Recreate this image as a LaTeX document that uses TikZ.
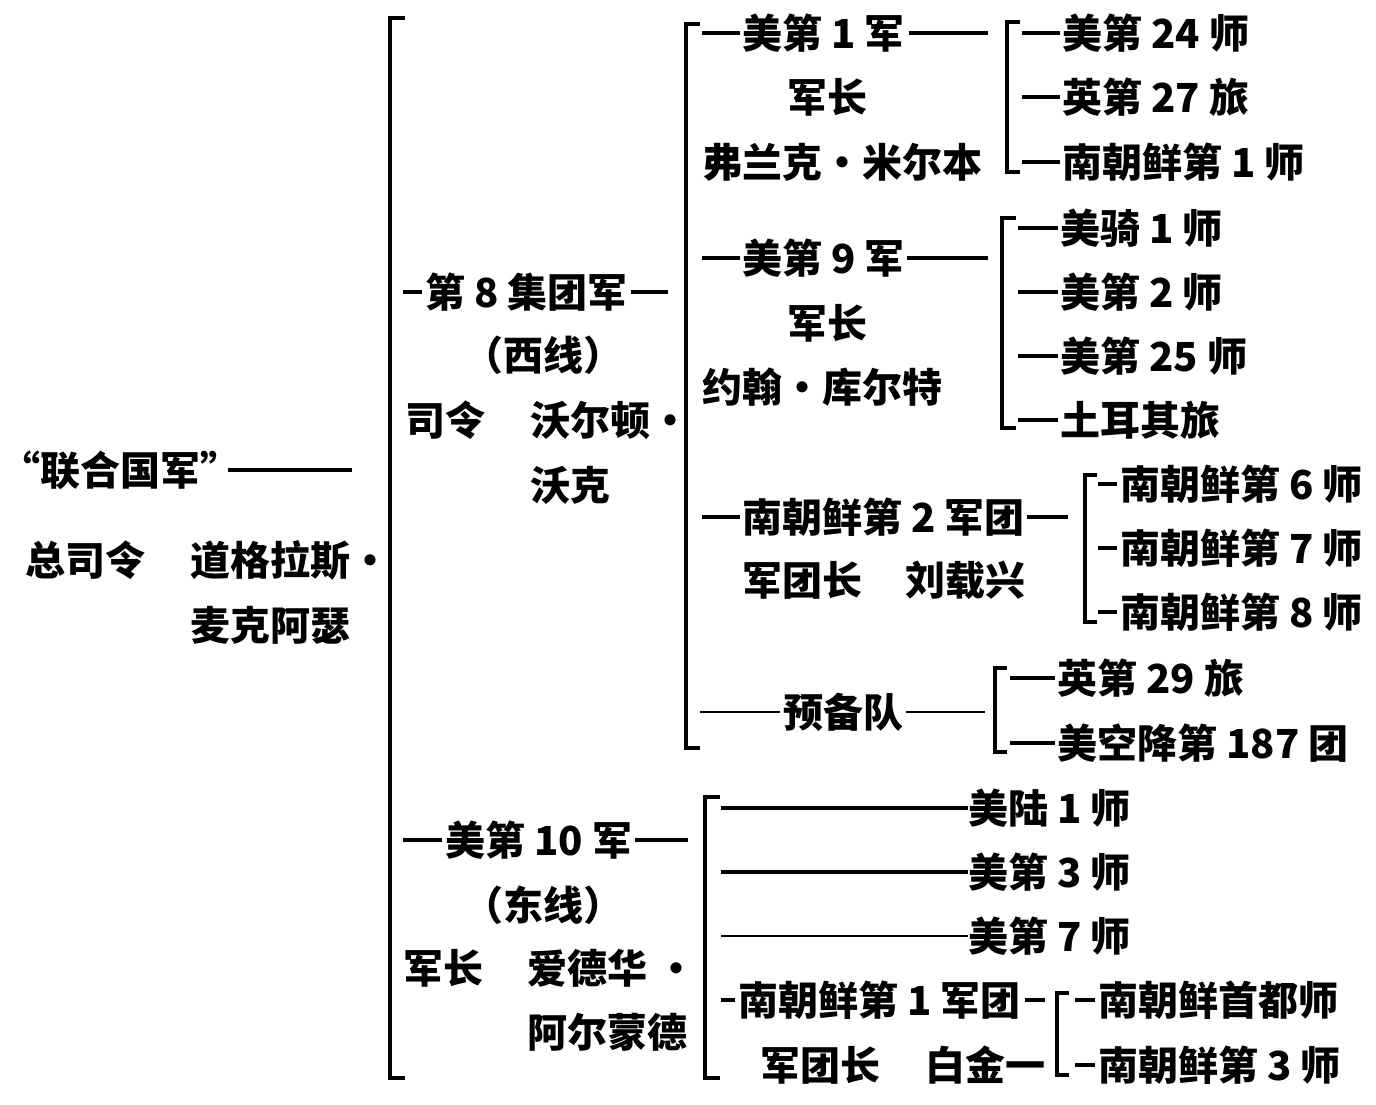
\documentclass[tikz,border=0pt]{standalone}
\usepackage{fontspec}
\newfontfamily\cjk{Noto Sans CJK SC}
\begin{document}
\begin{tikzpicture}[x=1pt,y=-1pt,
  lbl/.style={anchor=west,inner sep=0pt,text height=35pt,text depth=5pt,font=\cjk\bfseries\fontsize{40}{40}\selectfont},
  brk/.style={line width=3.8pt,line join=miter,line cap=butt},
  cn/.style={line width=3.4pt},
  thn/.style={line width=2.2pt}]
\useasboundingbox[fill=white] (0,0) rectangle (1376,1104);

% ---------- level 0 ----------
\node[lbl] (un) at (40,470) {\llap{“}联合国军”};
\node[lbl] (zsl) at (25,560) {总司令};
\node[lbl] (mac) at (190,560) {道格拉斯·};
\node[lbl] (mac2) at (190,625) {麦克阿瑟};
\coordinate (unr) at (352,470);
\draw[cn] ([xshift=-12pt]un.east) -- (unr);

% ---------- bracket 1 ----------
\coordinate (B1t) at (390,18);
\coordinate (B1b) at (390,1078);
\draw[brk] ([xshift=15pt]B1t) -- (B1t) -- (B1b) -- ([xshift=15pt]B1b);

% ---------- 8th army ----------
\node[lbl] (a8) at (425,292) {第 8 集团军};
\node[lbl] (a8s) at (463,355) {（西线）};
\node[lbl] (a8c) at (405,420) {司令};
\node[lbl] (a8n) at (530,420) {沃尔顿·};
\node[lbl] (a8n2) at (530,485) {沃克};
\coordinate (a8l) at (403,292);
\coordinate (a8r) at (668,292);
\draw[cn] (a8l) -- ([xshift=-3pt]a8.west);
\draw[cn] ([xshift=3pt]a8.east) -- (a8r);

% ---------- 10th corps ----------
\node[lbl] (a10) at (445,840) {美第 10 军};
\node[lbl] (a10s) at (463,905) {（东线）};
\node[lbl] (a10c) at (403,968) {军长};
\node[lbl] (a10n) at (527,968) {爱德华 ·};
\node[lbl] (a10n2) at (527,1032) {阿尔蒙德};
\coordinate (a10l) at (403,840);
\coordinate (a10r) at (688,840);
\draw[cn] (a10l) -- ([xshift=-3pt]a10.west);
\draw[cn] ([xshift=3pt]a10.east) -- (a10r);

% ---------- bracket 2 (8th army) ----------
\coordinate (B2t) at (686,24);
\coordinate (B2b) at (686,748);
\draw[brk] ([xshift=14pt]B2t) -- (B2t) -- (B2b) -- ([xshift=14pt]B2b);

\node[lbl] (c1) at (742,33) {美第 1 军};
\node[lbl] (c1a) at (787,97) {军长};
\node[lbl] (c1b) at (702,162) {弗兰克・米尔本};
\coordinate (c1l) at (702,33);
\coordinate (c1r) at (988,33);
\draw[cn] (c1l) -- ([xshift=-2pt]c1.west);
\draw[cn] ([xshift=4pt]c1.east) -- (c1r);

\node[lbl] (c9) at (742,258) {美第 9 军};
\node[lbl] (c9a) at (787,323) {军长};
\node[lbl] (c9b) at (702,387) {约翰・库尔特};
\coordinate (c9l) at (702,258);
\coordinate (c9r) at (988,258);
\draw[cn] (c9l) -- ([xshift=-2pt]c9.west);
\draw[cn] ([xshift=2pt]c9.east) -- (c9r);

\node[lbl] (k2) at (742,517) {南朝鲜第 2 军团};
\node[lbl] (k2a) at (742,580) {军团长};
\node[lbl] (k2b) at (905,580) {刘载兴};
\coordinate (k2l) at (702,517);
\coordinate (k2r) at (1068,517);
\draw[cn] (k2l) -- ([xshift=-2pt]k2.west);
\draw[cn] ([xshift=2pt]k2.east) -- (k2r);

\node[lbl] (res) at (783,712) {预备队};
\coordinate (resl) at (700,712);
\coordinate (resr) at (985,712);
\draw[thn] (resl) -- ([xshift=-3pt]res.west);
\draw[thn] ([xshift=3pt]res.east) -- (resr);

% ---------- bracket 3a (1st corps) ----------
\coordinate (B3at) at (1007,22);
\coordinate (B3ab) at (1007,172);
\draw[brk] ([xshift=13pt]B3at) -- (B3at) -- (B3ab) -- ([xshift=13pt]B3ab);
\node[lbl] (d1) at (1062,33) {美第 24 师};
\node[lbl] (d2) at (1062,97) {英第 27 旅};
\node[lbl] (d3) at (1062,162) {南朝鲜第 1 师};
\foreach \n in {d1,d2,d3}{\draw[cn] (B3at |- \n.west) ++(15,0) -- ([xshift=-2pt]\n.west);}

% ---------- bracket 3b (9th corps) ----------
\coordinate (B3bt) at (1002,218);
\coordinate (B3bb) at (1002,428);
\draw[brk] ([xshift=14pt]B3bt) -- (B3bt) -- (B3bb) -- ([xshift=14pt]B3bb);
\node[lbl] (e1) at (1060,228) {美骑 1 师};
\node[lbl] (e2) at (1060,292) {美第 2 师};
\node[lbl] (e3) at (1060,356) {美第 25 师};
\node[lbl] (e4) at (1060,420) {土耳其旅};
\foreach \n in {e1,e2,e3,e4}{\draw[cn] (B3bt |- \n.west) ++(16,0) -- ([xshift=-2pt]\n.west);}

% ---------- bracket 3c (ROK II corps) ----------
\coordinate (B3ct) at (1085,475);
\coordinate (B3cb) at (1085,622);
\draw[brk] ([xshift=12pt]B3ct) -- (B3ct) -- (B3cb) -- ([xshift=12pt]B3cb);
\node[lbl] (f1) at (1120,484) {南朝鲜第 6 师};
\node[lbl] (f2) at (1120,548) {南朝鲜第 7 师};
\node[lbl] (f3) at (1120,612) {南朝鲜第 8 师};
\foreach \n in {f1,f2,f3}{\draw[cn] (B3ct |- \n.west) ++(13,0) -- ([xshift=-3pt]\n.west);}

% ---------- bracket 3d (reserve) ----------
\coordinate (B3dt) at (995,668);
\coordinate (B3db) at (995,752);
\draw[brk] ([xshift=12pt]B3dt) -- (B3dt) -- (B3db) -- ([xshift=12pt]B3db);
\node[lbl] (g1) at (1057,678) {英第 29 旅};
\node[lbl] (g2) at (1057,743) {美空降第 187 团};
\foreach \n in {g1,g2}{\draw[cn] (B3dt |- \n.west) ++(15,0) -- ([xshift=-2pt]\n.west);}

% ---------- bracket 2b (10th corps) ----------
\coordinate (B2ct) at (705,797);
\coordinate (B2cb) at (705,1078);
\draw[brk] ([xshift=15pt]B2ct) -- (B2ct) -- (B2cb) -- ([xshift=15pt]B2cb);
\node[lbl] (h1) at (968,808) {美陆 1 师};
\node[lbl] (h2) at (968,872) {美第 3 师};
\node[lbl] (h3) at (968,936) {美第 7 师};
\draw[cn] (B2ct |- h1.west) ++(16,0) -- (h1.west);
\draw[cn] (B2ct |- h2.west) ++(16,0) -- (h2.west);
\draw[thn] (B2ct |- h3.west) ++(16,0) -- (h3.west);
\node[lbl] (k1) at (738,1000) {南朝鲜第 1 军团};
\node[lbl] (k1a) at (760,1065) {军团长};
\node[lbl] (k1b) at (925,1065) {白金一};
\coordinate (k1r) at (1045,1000);
\draw[cn] (B2ct |- k1.west) ++(16,0) -- ([xshift=-3pt]k1.west);
\draw[cn] ([xshift=4pt]k1.east) -- (k1r);

% ---------- bracket 3e (ROK I corps) ----------
\coordinate (B3et) at (1057,993);
\coordinate (B3eb) at (1057,1075);
\draw[brk] ([xshift=12pt]B3et) -- (B3et) -- (B3eb) -- ([xshift=12pt]B3eb);
\node[lbl] (i1) at (1098,1000) {南朝鲜首都师};
\node[lbl] (i2) at (1098,1065) {南朝鲜第 3 师};
\foreach \n in {i1,i2}{\draw[cn] (B3et |- \n.west) ++(18,0) -- ([xshift=-3pt]\n.west);}
\end{tikzpicture}
\end{document}
